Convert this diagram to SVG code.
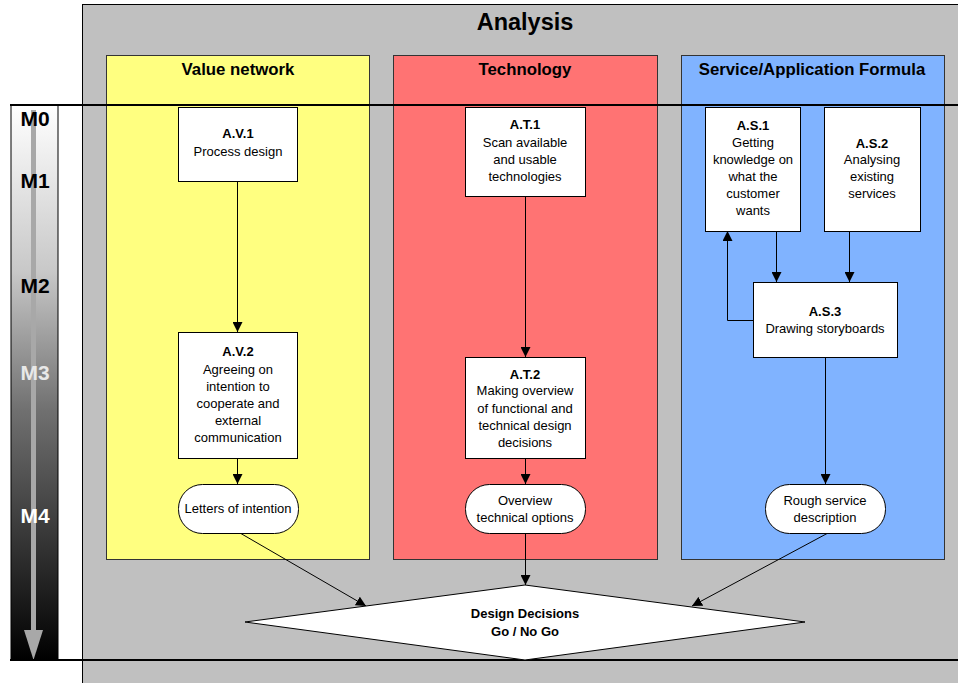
<svg xmlns="http://www.w3.org/2000/svg" width="958" height="683" viewBox="0 0 958 683">
<defs>
<linearGradient id="bar" x1="0" y1="0" x2="0" y2="1">
<stop offset="0" stop-color="#ffffff"/>
<stop offset="0.3" stop-color="#c8c8c8"/>
<stop offset="0.55" stop-color="#707070"/>
<stop offset="1" stop-color="#000000"/>
</linearGradient>
<marker id="ah" markerWidth="10" markerHeight="10" refX="10" refY="5" orient="auto" markerUnits="userSpaceOnUse">
<path d="M0,0 L10,5 L0,10 z" fill="#000"/>
</marker>
<style>
.box{fill:#fff;stroke:#000;stroke-width:1}
.panel{stroke:#333;stroke-width:1}
.t{font-family:"Liberation Sans",Arial,sans-serif;font-size:13px;fill:#000;text-anchor:middle}
.b{font-weight:bold}
.pt{font-family:"Liberation Sans",Arial,sans-serif;font-size:16.8px;font-weight:bold;text-anchor:middle}
.m{font-family:"Liberation Sans",Arial,sans-serif;font-size:21px;font-weight:bold;text-anchor:middle}
.c{stroke:#000;stroke-width:1;fill:none;marker-end:url(#ah)}
</style>
</defs>
<rect x="0" y="0" width="958" height="683" fill="#fff"/>
<g id="background">
<rect x="82.5" y="4.5" width="880" height="690" fill="#c0c0c0" stroke="#000"/>
<text x="525" y="30" class="pt" style="font-size:23.5px">Analysis</text>
</g>
<g id="timebar">
<rect x="11" y="105" width="47" height="555" fill="url(#bar)" stroke="#000"/>
<rect x="31" y="110" width="5" height="522" fill="#a8a8a8"/>
<path d="M24,630 L43,630 L33.5,660 z" fill="#a8a8a8"/>
<text x="35" y="126" class="m">M0</text>
<text x="35" y="188" class="m">M1</text>
<text x="35" y="293" class="m">M2</text>
<text x="35" y="380" class="m" fill="#e8e8e8">M3</text>
<text x="35" y="523" class="m" fill="#fff">M4</text>
</g>
<g id="panel-value">
<rect x="106.5" y="55.5" width="263" height="504" fill="#ffff80" class="panel"/>
<text x="238" y="75" class="pt">Value network</text>
</g>
<g id="panel-tech">
<rect x="393.5" y="55.5" width="264" height="504" fill="#ff7373" class="panel"/>
<text x="525" y="75" class="pt">Technology</text>
</g>
<g id="panel-service">
<rect x="681.5" y="55.5" width="263" height="504" fill="#80b3ff" class="panel"/>
<text x="812" y="75" class="pt">Service/Application Formula</text>
</g>
<g id="lines">
<line x1="10" y1="105" x2="958" y2="105" stroke="#000" stroke-width="2"/>
<line x1="10" y1="660" x2="958" y2="660" stroke="#000" stroke-width="2"/>
</g>
<g id="connectors">
<line x1="237.5" y1="181" x2="237.5" y2="332" class="c"/>
<line x1="237.5" y1="458" x2="237.5" y2="484" class="c"/>
<line x1="525.5" y1="196" x2="525.5" y2="357" class="c"/>
<line x1="525.5" y1="458" x2="525.5" y2="484" class="c"/>
<line x1="776.5" y1="231" x2="776.5" y2="282" class="c"/>
<line x1="849.5" y1="231" x2="849.5" y2="282" class="c"/>
<polyline points="753,320.5 727.5,320.5 727.5,231" class="c"/>
<line x1="825.5" y1="357" x2="825.5" y2="484" class="c"/>
<line x1="240" y1="533" x2="366" y2="606" class="c"/>
<line x1="525.5" y1="534" x2="525.5" y2="585" class="c"/>
<line x1="828" y1="533" x2="692" y2="606" class="c"/>
</g>
<g id="AV1">
<rect x="178.5" y="107.5" width="119" height="74" class="box"/>
<text x="238" y="138" class="t b">A.V.1</text>
<text x="238" y="156" class="t">Process design</text>
</g>
<g id="AV2">
<rect x="178.5" y="332.5" width="119" height="126" class="box"/>
<text x="238" y="356" class="t b">A.V.2</text>
<text x="238" y="374" class="t">Agreeing on</text>
<text x="238" y="391" class="t">intention to</text>
<text x="238" y="408" class="t">cooperate and</text>
<text x="238" y="425" class="t">external</text>
<text x="238" y="442" class="t">communication</text>
</g>
<g id="letters">
<rect x="178.5" y="484.5" width="120" height="49" rx="24" class="box"/>
<text x="238" y="513" class="t">Letters of intention</text>
</g>
<g id="AT1">
<rect x="465.5" y="107.5" width="120" height="89" class="box"/>
<text x="525" y="129" class="t b">A.T.1</text>
<text x="525" y="147" class="t">Scan available</text>
<text x="525" y="164" class="t">and usable</text>
<text x="525" y="181" class="t">technologies</text>
</g>
<g id="AT2">
<rect x="465.5" y="357.5" width="120" height="101" class="box"/>
<text x="525" y="379" class="t b">A.T.2</text>
<text x="525" y="395" class="t">Making overview</text>
<text x="525" y="413" class="t">of functional and</text>
<text x="525" y="430" class="t">technical design</text>
<text x="525" y="447" class="t">decisions</text>
</g>
<g id="overview">
<rect x="465.5" y="484.5" width="120" height="49" rx="24" class="box"/>
<text x="525" y="505" class="t">Overview</text>
<text x="525" y="522" class="t">technical options</text>
</g>
<g id="AS1">
<rect x="705.5" y="107.5" width="95" height="124" class="box"/>
<text x="753" y="130" class="t b">A.S.1</text>
<text x="753" y="147" class="t">Getting</text>
<text x="753" y="164" class="t">knowledge on</text>
<text x="753" y="181" class="t">what the</text>
<text x="753" y="198" class="t">customer</text>
<text x="753" y="215" class="t">wants</text>
</g>
<g id="AS2">
<rect x="824.5" y="107.5" width="96" height="124" class="box"/>
<text x="872" y="148" class="t b">A.S.2</text>
<text x="872" y="164" class="t">Analysing</text>
<text x="872" y="181" class="t">existing</text>
<text x="872" y="198" class="t">services</text>
</g>
<g id="AS3">
<rect x="753.5" y="282.5" width="144" height="75" class="box"/>
<text x="825" y="316" class="t b">A.S.3</text>
<text x="825" y="333" class="t">Drawing storyboards</text>
</g>
<g id="rough">
<rect x="765.5" y="484.5" width="120" height="49" rx="24" class="box"/>
<text x="825" y="505" class="t">Rough service</text>
<text x="825" y="522" class="t">description</text>
</g>
<g id="decision">
<polygon points="245,622 525,585 805,622 525,660" fill="#fff" stroke="#000"/>
<text x="525" y="618" class="t b">Design Decisions</text>
<text x="525" y="636" class="t b">Go / No Go</text>
</g>
</svg>
